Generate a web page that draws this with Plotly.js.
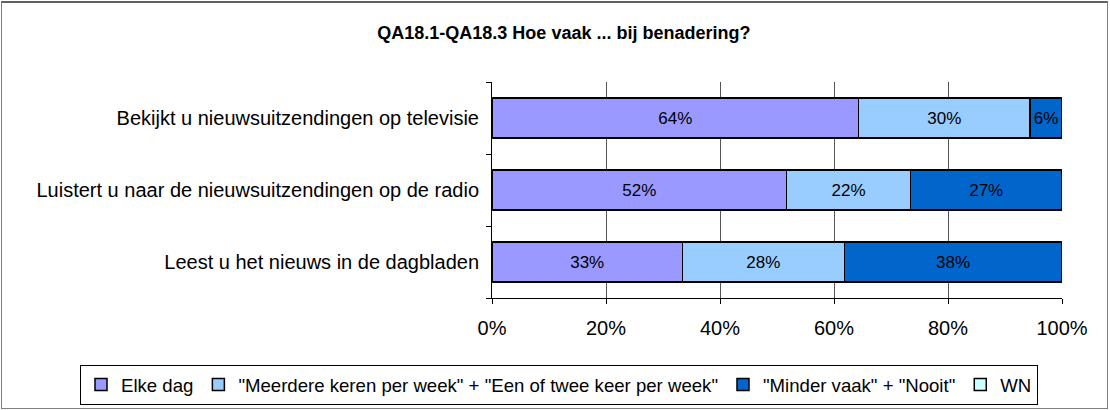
<!DOCTYPE html>
<html>
<head>
<meta charset="utf-8">
<script src="https://cdn.plot.ly/plotly-3.0.1.min.js"></script>
<style>
html,body{margin:0;padding:0;background:#fff;}
#wrap{position:relative;width:1110px;height:410px;}
#chart{width:1110px;height:410px;}
#frame{position:absolute;left:1px;top:1px;width:1105px;height:405px;border:1px solid #808080;border-top:2px solid #606060;pointer-events:none;}
</style>
</head>
<body>
<div id="wrap"><div id="chart"></div><div id="frame"></div></div>
<script>
const categories = [
  "Leest u het nieuws in de dagbladen",
  "Luistert u naar de nieuwsuitzendingen op de radio",
  "Bekijkt u nieuwsuitzendingen op televisie"
];
const seriesNames = [
  "Elke dag",
  "\"Meerdere keren per week\" + \"Een of twee keer per week\"",
  "\"Minder vaak\" + \"Nooit\"",
  "WN"
];
const elkeDag = [33.4, 51.7, 64.3];
const meerdere = [28.4, 21.7, 30.1];
const minder = [38.2, 26.6, 5.6];
const wn = [0, 0, 0];
const colors = ["#9999FF", "#99CCFF", "#0066CC", "#CCFFFF"];
const tickVals = [0, 20, 40, 60, 80, 100];
const tickText = ["0%", "20%", "40%", "60%", "80%", "100%"];

const FONT = "Liberation Sans, Arial, sans-serif";
const values = [elkeDag, meerdere, minder, wn];
const traces = values.map((v, i) => ({
  type: "bar",
  orientation: "h",
  name: seriesNames[i],
  y: categories,
  x: v,
  marker: {color: colors[i], line: {color: "#000000", width: 1.5}},
  texttemplate: i < 3 ? "%{x:.0f}%" : "",
  textposition: "inside",
  insidetextanchor: "middle",
  textfont: {family: FONT, size: 17, color: "#000000"},
  constraintext: "none",
  hoverinfo: "none"
}));

const layout = {
  width: 1110,
  height: 410,
  barmode: "stack",
  bargap: 0.45,
  paper_bgcolor: "#ffffff",
  plot_bgcolor: "#ffffff",
  font: {family: FONT, size: 20, color: "#000000"},
  margin: {l: 492, r: 48, t: 82, b: 112, autoexpand: false},
  title: {
    text: "<b>QA18.1-QA18.3 Hoe vaak ... bij benadering?</b>",
    font: {family: FONT, size: 18, color: "#000000"},
    x: 0.508, xref: "container", xanchor: "center",
    y: 1 - 33/410, yref: "container", yanchor: "middle"
  },
  xaxis: {
    range: [0, 100],
    tickvals: tickVals,
    ticktext: tickText,
    ticks: "outside",
    ticklen: 5,
    tickcolor: "#000000",
    ticklabelstandoff: 7,
    showline: true,
    linecolor: "#000000",
    linewidth: 1,
    showgrid: true,
    gridcolor: "#555555",
    gridwidth: 1,
    zeroline: false,
    tickfont: {size: 20},
    fixedrange: true
  },
  yaxis: {
    type: "category",
    tickson: "boundaries",
    ticks: "outside",
    ticklen: 5,
    tickcolor: "#000000",
    ticklabelstandoff: 8,
    showline: true,
    linecolor: "#000000",
    linewidth: 1,
    showgrid: false,
    zeroline: false,
    tickfont: {size: 20},
    fixedrange: true
  },
  showlegend: true,
  legend: {
    orientation: "h",
    xref: "paper", yref: "paper",
    x: (80 - 492) / 570, xanchor: "left",
    y: (298 - 385) / 216, yanchor: "middle",
    bordercolor: "#000000",
    borderwidth: 1,
    bgcolor: "#ffffff",
    font: {size: 18.6},
    traceorder: "normal",
    itemwidth: 30
  }
};

Plotly.newPlot("chart", traces, layout, {staticPlot: true, displayModeBar: false});
</script>
</body>
</html>
